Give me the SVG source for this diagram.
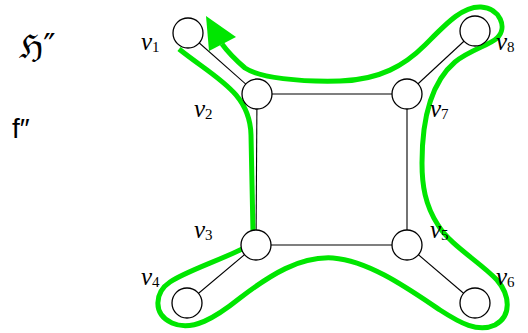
<svg xmlns="http://www.w3.org/2000/svg" width="528" height="333" viewBox="0 0 528 333">
<style>
.edge{stroke:#000;stroke-width:1.1;fill:none}
.node{fill:#fff;stroke:#000;stroke-width:1.3}
.walk{stroke:#00e600;stroke-width:5;fill:none;stroke-linecap:butt;stroke-linejoin:round}
.head{fill:#00e600}
.lbl{font-family:"Liberation Serif",serif;font-size:25px;font-style:italic;fill:#000}
.sub{font-style:normal;font-size:15px}
.sym{font-family:"DejaVu Serif","Noto Sans",serif;font-size:33px;fill:#000}
.f{font-family:"Liberation Sans",sans-serif;font-size:28px;fill:#000}
</style>
<rect width="528" height="333" fill="#fff"/>
<g id="connectors">
<line class="edge" x1="188" y1="33" x2="257" y2="94"/>
<line class="edge" x1="257" y1="94" x2="407" y2="94"/>
<line class="edge" x1="407" y1="94" x2="475" y2="31"/>
<line class="edge" x1="257" y1="94" x2="256" y2="245"/>
<line class="edge" x1="407" y1="94" x2="407" y2="245"/>
<line class="edge" x1="256" y1="245" x2="407" y2="245"/>
<line class="edge" x1="256" y1="245" x2="187" y2="303"/>
<line class="edge" x1="407" y1="245" x2="475" y2="303"/>
<path class="walk" d="M179,49 C215,78 250,92 251,135 L253,232 C253,240 250,246 240,250 C215,262 185,272 170,282 C155,292 152,314 172,323 C192,332 215,318 240,298 C270,275 300,256 333,258 C370,261 410,290 440,310 C460,323 478,333 495,325 C512,316 510,295 497,280 C480,262 450,245 438,225 C425,205 422,185 422,163 C422,125 428,85 455,62 C470,50 490,45 497,38 C508,28 500,8 481,7 C462,6 445,25 425,45 C405,65 380,80 340,81 C300,82 260,78 245,68 C238,62 230,55 222,44"/>
<polygon class="head" points="206,16 236,37 209,51"/>
</g>
<g id="v1"><circle class="node" cx="188" cy="33" r="15"/><text class="lbl" x="141" y="50">v<tspan class="sub" dy="2">1</tspan></text></g>
<g id="v2"><circle class="node" cx="257" cy="94" r="15"/><text class="lbl" x="194" y="117">v<tspan class="sub" dy="2">2</tspan></text></g>
<g id="v7"><circle class="node" cx="407" cy="94" r="15"/><text class="lbl" x="430" y="117">v<tspan class="sub" dy="2">7</tspan></text></g>
<g id="v8"><circle class="node" cx="475" cy="31" r="15"/><text class="lbl" x="496" y="50">v<tspan class="sub" dy="2">8</tspan></text></g>
<g id="v3"><circle class="node" cx="256" cy="245" r="15"/><text class="lbl" x="194" y="238">v<tspan class="sub" dy="2">3</tspan></text></g>
<g id="v4"><circle class="node" cx="187" cy="303" r="15"/><text class="lbl" x="141" y="285">v<tspan class="sub" dy="2">4</tspan></text></g>
<g id="v5"><circle class="node" cx="407" cy="245" r="15"/><text class="lbl" x="430" y="238">v<tspan class="sub" dy="2">5</tspan></text></g>
<g id="v6"><circle class="node" cx="475" cy="303" r="15"/><text class="lbl" x="496" y="285">v<tspan class="sub" dy="2">6</tspan></text></g>
<text class="sym" x="19" y="58">ℌ″</text>
<text class="f" x="12" y="138">f″</text>
</svg>
